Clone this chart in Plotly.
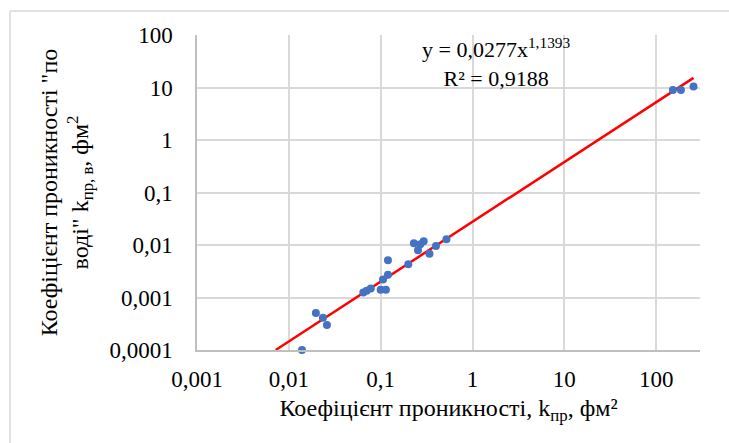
import numpy as np
import plotly.graph_objects as go

# Permeability to gas (x) and to water (y), fm^2
k_pr = [0.0139, 0.0197, 0.0235, 0.026, 0.0647, 0.0703, 0.078, 0.1, 0.114,
        0.106, 0.12, 0.12, 0.2, 0.23, 0.255, 0.27, 0.294, 0.34, 0.40, 0.52,
        152, 186, 255]
k_pr_v = [0.0001, 0.000505, 0.00041, 0.0003, 0.00125, 0.00134, 0.00149,
          0.0014, 0.0014, 0.0022, 0.0027, 0.0051, 0.0043, 0.0108, 0.0079,
          0.0103, 0.0118, 0.0068, 0.0096, 0.0129, 9.0, 9.0, 10.4]

# Power trend y = a * x^b
trend_a = 0.0277
trend_b = 1.1393
trend_r2 = 0.9188
trend_x_start = 0.0072

x_ticks = [0.001, 0.01, 0.1, 1, 10, 100]
x_tick_text = ["0,001", "0,01", "0,1", "1", "10", "100"]
y_ticks = [0.0001, 0.001, 0.01, 0.1, 1, 10, 100]
y_tick_text = ["0,0001", "0,001", "0,01", "0,1", "1", "10", "100"]

FONT = "Liberation Serif"
GRID = "#D9D9D9"

trend_x = np.geomspace(trend_x_start, max(k_pr), 200)
trend_y = trend_a * trend_x ** trend_b

fig = go.Figure()
fig.add_trace(go.Scatter(
    x=trend_x, y=trend_y, mode="lines",
    line=dict(color="#FF0000", width=2.5),
    hoverinfo="skip", showlegend=False,
))
fig.add_trace(go.Scatter(
    x=k_pr, y=k_pr_v, mode="markers",
    marker=dict(color="#4472C4", size=8),
    cliponaxis=False, showlegend=False,
))

# plot area in pixels
W, H = 729, 443
ml, mr, mt, mb = 197, 29, 35, 93
pw, ph = W - ml - mr, H - mt - mb

def px_x(p):
    return (p - ml) / pw

def px_y(p):
    return (H - mb - p) / ph

frame = dict(color="#D9D9D9", width=1.5)
fig.add_shape(type="line", xref="paper", yref="paper",
              x0=px_x(10), x1=px_x(10), y0=px_y(11), y1=px_y(H + 5), line=frame)
fig.add_shape(type="line", xref="paper", yref="paper",
              x0=px_x(10), x1=px_x(W + 5), y0=px_y(11), y1=px_y(11), line=frame)

fig.add_annotation(
    xref="paper", yref="paper", x=px_x(496), y=px_y(62),
    text=f"y = {str(trend_a).replace('.', ',')}x<sup>{str(trend_b).replace('.', ',')}</sup>"
         f"<br>R² = {str(trend_r2).replace('.', ',')}",
    showarrow=False, align="center", xanchor="center", yanchor="middle",
    font=dict(family=FONT, size=22, color="#000000"),
)

fig.update_layout(
    width=W, height=H,
    margin=dict(l=ml, r=mr, t=mt, b=mb),
    paper_bgcolor="white", plot_bgcolor="white",
    font=dict(family=FONT, size=22, color="#000000"),
    xaxis=dict(
        type="log", range=[-3, np.log10(300)],
        tickvals=x_ticks, ticktext=x_tick_text,
        showgrid=True, gridcolor=GRID, gridwidth=1.5,
        showline=True, linecolor="#BFBFBF", linewidth=1.5, mirror=False,
        zeroline=False, ticks="", ticklen=0, ticklabelstandoff=8,
        tickfont=dict(family=FONT, size=23),
        title=dict(text="Коефіцієнт проникності, k<sub>пр</sub>, фм²",
                   font=dict(family=FONT, size=24), standoff=8),
    ),
    yaxis=dict(
        type="log", range=[-4, 2],
        tickvals=y_ticks, ticktext=y_tick_text,
        showgrid=True, gridcolor=GRID, gridwidth=1.5,
        showline=True, linecolor="#BFBFBF", linewidth=1.5,
        zeroline=False, ticks="", ticklen=0, ticklabelstandoff=18,
        tickfont=dict(family=FONT, size=23),
        title=dict(text="Коефіцієнт проникності \"по<br>воді\" k<sub>пр, в</sub>, фм<sup>2</sup>",
                   font=dict(family=FONT, size=24), standoff=14),
    ),
)

fig.write_html("out.html")
